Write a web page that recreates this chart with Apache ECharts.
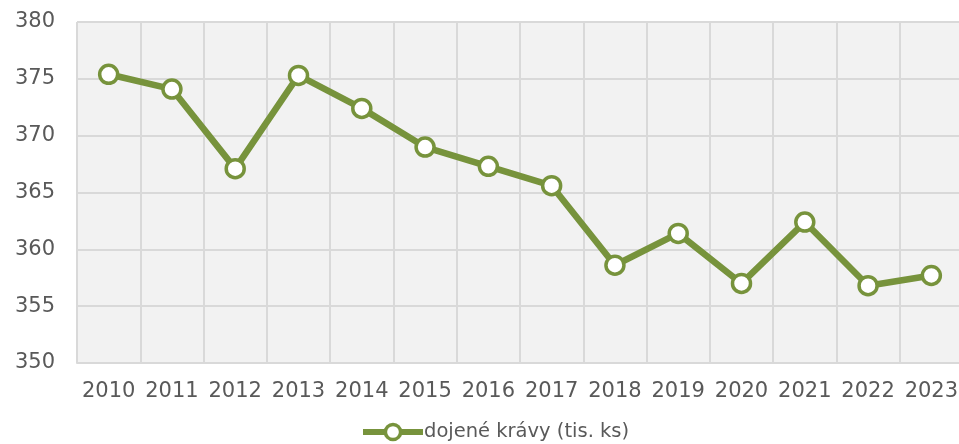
<!DOCTYPE html>
<html>
<head>
<meta charset="utf-8">
<script src="https://cdn.jsdelivr.net/npm/echarts@6/dist/echarts.min.js"></script>
<style>
  html, body { margin: 0; padding: 0; background: #fff; }
  #chart { width: 959px; height: 444px; }
</style>
</head>
<body>
<div id="chart"></div>
<script>
var years = ["2010", "2011", "2012", "2013", "2014", "2015", "2016",
  "2017", "2018", "2019", "2020", "2021", "2022", "2023"];
var cows = [375.4, 374.1, 367.1, 375.3, 372.4, 369.0, 367.3,
  365.6, 358.6, 361.4, 357.0, 362.4, 356.8, 357.7];
var seriesName = "dojené krávy (tis. ks)";

var gridColor = "#d9d9d9";
var textColor = "#595959";
var green = "#77933c";
var font = "DejaVu Sans";

var myChart = echarts.init(document.getElementById("chart"));
myChart.setOption({
  animation: false,
  grid: {
    left: 77,
    right: -4,
    top: 22,
    bottom: 81,
    outerBoundsMode: "none",
    show: true,
    backgroundColor: "#f2f2f2",
    borderWidth: 0
  },
  xAxis: {
    type: "category",
    data: years,
    boundaryGap: true,
    axisLine: { show: true, lineStyle: { color: gridColor, width: 2 } },
    axisTick: { show: false, interval: 0 },
    splitLine: { show: true, interval: 0, lineStyle: { color: gridColor, width: 2 } },
    axisLabel: { interval: 0, hideOverlap: false, color: textColor, fontSize: 21, fontFamily: font, margin: 18 }
  },
  yAxis: {
    type: "value",
    min: 350,
    max: 380,
    interval: 5,
    axisLine: { show: false },
    axisTick: { show: false },
    splitLine: { show: true, lineStyle: { color: gridColor, width: 2 } },
    axisLabel: { color: textColor, fontSize: 21, fontFamily: font, margin: 22 }
  },
  legend: {
    bottom: -3,
    left: 355,
    itemWidth: 60,
    itemHeight: 19,
    itemGap: 0,
    lineStyle: { width: 6, color: green },
    itemStyle: { color: "#ffffff", borderColor: green, borderWidth: 3.5 },
    textStyle: { color: textColor, fontSize: 19.5, fontFamily: font, padding: [0, 0, 0, -4] },
    data: [seriesName]
  },
  series: [
    {
      name: seriesName,
      type: "line",
      data: cows,
      symbol: "circle",
      symbolSize: 18,
      lineStyle: { color: green, width: 6.5 },
      itemStyle: { color: "#ffffff", borderColor: green, borderWidth: 3.5 }
    }
  ]
});
</script>
</body>
</html>
